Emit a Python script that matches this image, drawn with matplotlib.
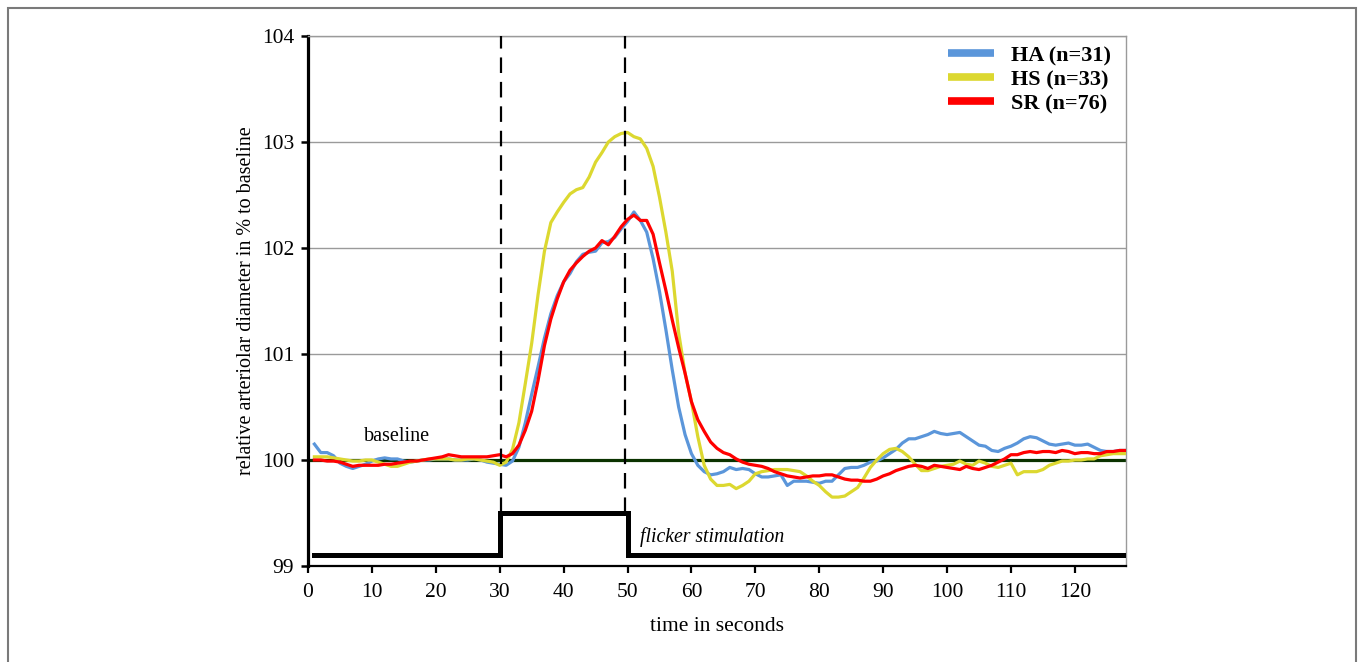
import numpy as np
import matplotlib
matplotlib.use("Agg")
import matplotlib.pyplot as plt
from matplotlib.patches import Rectangle

plt.rcParams['font.family'] = ['Liberation Serif', 'DejaVu Serif']

# time in seconds, one sample per second
t = np.arange(1, 129)

ha = [100.15, 100.07, 100.07, 100.04, 99.97, 99.94, 99.92, 99.94, 99.96, 99.99,
      100.01, 100.02, 100.01, 100.01, 99.99, 99.98, 99.99, 100.00, 100.00, 100.01,
      100.01, 100.01, 100.00, 100.00, 100.00, 100.01, 100.00, 99.98, 99.97, 99.96,
      99.95, 99.99, 100.12, 100.35, 100.62, 100.88, 101.15, 101.38, 101.55, 101.68,
      101.76, 101.87, 101.94, 101.96, 101.97, 102.05, 102.06, 102.10, 102.18, 102.25,
      102.34, 102.26, 102.15, 101.90, 101.59, 101.23, 100.85, 100.50, 100.24, 100.06,
      99.95, 99.89, 99.86, 99.87, 99.89, 99.93, 99.91, 99.92, 99.91, 99.87,
      99.84, 99.84, 99.85, 99.86, 99.76, 99.80, 99.80, 99.80, 99.79, 99.78,
      99.80, 99.80, 99.86, 99.92, 99.93, 99.93, 99.95, 99.98, 99.99, 100.02,
      100.06, 100.10, 100.16, 100.20, 100.20, 100.22, 100.24, 100.27, 100.25, 100.24,
      100.25, 100.26, 100.22, 100.18, 100.14, 100.13, 100.09, 100.08, 100.11, 100.13,
      100.16, 100.20, 100.22, 100.21, 100.18, 100.15, 100.14, 100.15, 100.16, 100.14,
      100.14, 100.15, 100.12, 100.09, 100.08, 100.08, 100.09, 100.09]

hs = [100.03, 100.03, 100.03, 100.02, 100.01, 100.00, 99.99, 99.99, 100.00, 100.00,
      99.98, 99.96, 99.94, 99.94, 99.96, 99.98, 99.99, 100.00, 100.01, 100.01,
      100.01, 100.01, 100.00, 100.00, 100.01, 100.01, 100.00, 99.99, 99.98, 99.95,
      99.98, 100.10, 100.35, 100.72, 101.10, 101.56, 101.97, 102.24, 102.34, 102.43,
      102.51, 102.55, 102.57, 102.67, 102.81, 102.90, 103.00, 103.05, 103.08, 103.09,
      103.05, 103.03, 102.94, 102.77, 102.48, 102.15, 101.78, 101.20, 100.82, 100.55,
      100.22, 99.95, 99.82, 99.76, 99.76, 99.77, 99.73, 99.76, 99.80, 99.87,
      99.89, 99.90, 99.91, 99.91, 99.91, 99.90, 99.89, 99.85, 99.80, 99.76,
      99.70, 99.65, 99.65, 99.66, 99.70, 99.74, 99.83, 99.93, 100.00, 100.06,
      100.10, 100.11, 100.08, 100.03, 99.96, 99.90, 99.90, 99.92, 99.94, 99.95,
      99.96, 99.99, 99.96, 99.95, 99.99, 99.97, 99.94, 99.93, 99.95, 99.97,
      99.86, 99.89, 99.89, 99.89, 99.91, 99.95, 99.97, 99.99, 99.99, 100.00,
      100.00, 100.01, 100.01, 100.04, 100.05, 100.06, 100.06, 100.06]

sr = [100.00, 100.00, 99.99, 99.99, 99.98, 99.96, 99.94, 99.95, 99.95, 99.95,
      99.95, 99.96, 99.96, 99.97, 99.98, 99.99, 99.99, 100.00, 100.01, 100.02,
      100.03, 100.05, 100.04, 100.03, 100.03, 100.03, 100.03, 100.03, 100.04, 100.05,
      100.03, 100.06, 100.14, 100.28, 100.46, 100.75, 101.08, 101.33, 101.52, 101.68,
      101.79, 101.86, 101.92, 101.97, 102.00, 102.07, 102.03, 102.11, 102.20, 102.27,
      102.31, 102.26, 102.26, 102.13, 101.86, 101.60, 101.32, 101.06, 100.82, 100.55,
      100.38, 100.27, 100.17, 100.11, 100.07, 100.05, 100.01, 99.98, 99.96, 99.95,
      99.94, 99.92, 99.89, 99.87, 99.85, 99.84, 99.83, 99.84, 99.85, 99.85,
      99.86, 99.86, 99.84, 99.82, 99.81, 99.81, 99.80, 99.80, 99.82, 99.85,
      99.87, 99.90, 99.92, 99.94, 99.95, 99.94, 99.92, 99.95, 99.94, 99.93,
      99.92, 99.91, 99.94, 99.92, 99.91, 99.93, 99.95, 99.98, 100.01, 100.05,
      100.05, 100.07, 100.08, 100.07, 100.08, 100.08, 100.07, 100.09, 100.08, 100.06,
      100.07, 100.07, 100.06, 100.06, 100.08, 100.08, 100.09, 100.09]

series_labels = ['HA (n=31)', 'HS (n=33)', 'SR (n=76)']
series_colors = ['#5B96DA', '#DCD830', '#FF0000']

# stimulation window (s) and marker levels
stim_on, stim_off = 30, 50
stim_low, stim_high = 99.1, 99.5
marker_x = [30.2, 49.6]

fig = plt.figure(figsize=(13.58, 6.62), dpi=100)
ax = fig.add_axes([308 / 1358, 1 - 566 / 662, 818 / 1358, 530 / 662])

ax.set_xlim(0, 128)
ax.set_ylim(99, 104)
ax.set_xticks(range(0, 121, 10))
ax.set_yticks(range(99, 105))
ax.yaxis.grid(True, color='#9a9a9a', lw=1.0)
ax.set_axisbelow(True)

# baseline
ax.axhline(100, color='#0b3300', lw=2.3, zorder=2)

for vals, lab, col in zip([ha, hs, sr], series_labels, series_colors):
    ax.plot(t, vals, color=col, lw=2.3, label=lab, zorder=3)

# flicker stimulation trace
ft = [t[0], stim_on, stim_on, stim_off, stim_off, t[-1]]
fv = [stim_low, stim_low, stim_high, stim_high, stim_low, stim_low]
ax.plot(ft, fv, color='black', lw=3.6, solid_joinstyle='miter', zorder=4)

ax.vlines(marker_x, stim_high, 104, colors='black', lw=1.6,
          linestyles=(0, (7, 4)), zorder=5)

ax.text(13.9, 100.22, 'baseline', fontsize=14.5, ha='center', va='center')
ax.text(52, 99.27, 'flicker stimulation', fontsize=14.2, style='italic',
        ha='left', va='center')

for s in ['top', 'right']:
    ax.spines[s].set_color('#9a9a9a')
    ax.spines[s].set_linewidth(1.0)
ax.spines['left'].set_linewidth(2.3)
ax.spines['bottom'].set_linewidth(1.6)
ax.tick_params(axis='y', direction='out', length=5, width=1.8, labelsize=15.5, pad=5)
ax.tick_params(axis='x', direction='out', length=5, width=1.6, labelsize=15.5, pad=7)

ax.set_xlabel('time in seconds', fontsize=15.5, labelpad=11)
ax.set_ylabel('relative arteriolar diameter in % to baseline', fontsize=14.5, labelpad=4)

leg = ax.legend(loc='upper right', bbox_to_anchor=(0.9927, 0.9985), borderaxespad=0,
                frameon=False, prop={'weight': 'bold', 'size': 16},
                handlelength=2.1, handletextpad=0.75, labelspacing=0.15)
for h in leg.get_lines():
    h.set_linewidth(5.5)
    h.set_solid_capstyle('butt')

# outer frame around the figure
fig.patches.append(Rectangle((8 / 1358, -0.02), 1348 / 1358, 1.02 - 8 / 662,
                             transform=fig.transFigure, fill=False,
                             edgecolor='#7a7a7a', lw=1.5))

fig.savefig('out.png', dpi=100)
